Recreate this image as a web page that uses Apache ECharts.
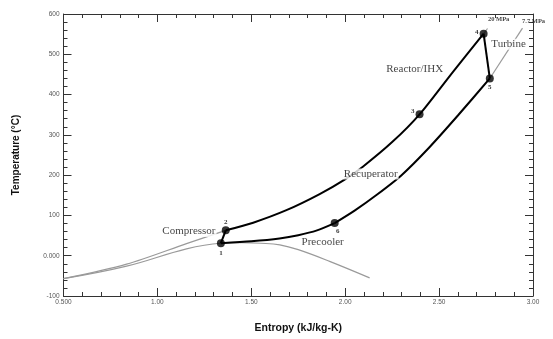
<!DOCTYPE html>
<html>
<head>
<meta charset="utf-8">
<script src="https://cdn.jsdelivr.net/npm/echarts@6/dist/echarts.min.js"></script>
<style>html,body{margin:0;padding:0;background:#fff}#c{width:553px;height:339px}</style>
</head>
<body>
<div id="c"></div>
<script>
// ---- data (entropy kJ/kg-K, temperature °C) ----
const xTickLabels = ['0.500', '1.00', '1.50', '2.00', '2.50', '3.00'];
const yTickLabels = ['-100', '0.000', '100', '200', '300', '400', '500', '600'];

const statePoints = [[1.338, 31], [1.364, 63], [2.396, 351], [2.737, 551], [2.770, 440], [1.944, 81]];
const stateNames = ['1', '2', '3', '4', '5', '6'];

const compressorLine = [[1.338, 31], [1.364, 63]];
const highPressureLine = [[1.364, 63], [1.51, 82], [1.687, 113], [1.864, 153], [1.997, 189], [2.094, 221], [2.25, 282], [2.396, 351], [2.573, 456], [2.737, 551]];
const turbineLine = [[2.737, 551], [2.770, 440]];
const lowPressureLine = [[1.944, 81], [2.05, 112], [2.17, 152], [2.30, 200], [2.45, 270], [2.60, 348], [2.770, 440]];
const precoolerLine = [[1.338, 31], [1.50, 36], [1.65, 43], [1.75, 51], [1.85, 63], [1.944, 81]];

const domeLine = [[0.5, -57], [0.836, -26], [1.155, 17], [1.338, 31], [1.45, 32.5], [1.55, 31], [1.652, 27], [1.75, 15], [1.917, -14], [2.13, -55]];
const isobar20Low = [[0.5, -57], [0.836, -21], [1.155, 30], [1.364, 63]];
const isobar20High = [[2.737, 551], [2.758, 564]];
const isobar77High = [[2.770, 440], [2.944, 565]];

const annotations = [
  {value: [1.168, 60], name: 'Compressor'},
  {value: [1.880, 33], name: 'Precooler'},
  {value: [2.136, 203], name: 'Recuperator'},
  {value: [2.370, 462], name: 'Reactor/IHX'},
  {value: [2.870, 525], name: 'Turbine'}
];
const pressureLabels = [
  {value: [2.817, 588], name: '20 MPa'},
  {value: [3.003, 581], name: '7.7 MPa'}
];

// ---- chart ----
const labelPos = {
  '1': {position: 'bottom', distance: 2},
  '2': {position: 'top', distance: 1},
  '3': {position: 'left', distance: 1, offset: [0, -3]},
  '4': {position: 'left', distance: 1, offset: [0, -2]},
  '5': {position: 'bottom', distance: 1},
  '6': {position: 'bottom', distance: 1, offset: [3, 0]}
};
const xLab = v => { const i = Math.round((v - 0.5) / 0.5); return xTickLabels[i] ?? ''; };
const yLab = v => { const i = Math.round((v + 100) / 100); return yTickLabels[i] ?? ''; };

const axisCommon = () => ({
  axisLine: {show: true, onZero: false, lineStyle: {color: '#333', width: 1}},
  axisTick: {show: true, inside: true, length: 8, lineStyle: {color: '#333'}},
  minorTick: {show: true, splitNumber: 5, length: 4, lineStyle: {color: '#333'}},
  splitLine: {show: false}
});
const black = (data) => ({type: 'line', data, showSymbol: false, symbol: 'none', smooth: 0.25,
  lineStyle: {color: '#000', width: 2}, z: 3, silent: true, animation: false});
const gray = (data, smooth) => ({type: 'line', data, showSymbol: false, symbol: 'none', smooth: smooth,
  lineStyle: {color: '#9a9a9a', width: 1.2}, z: 2, silent: true, animation: false});

const chart = echarts.init(document.getElementById('c'), null, {renderer: 'canvas'});
chart.setOption({
  animation: false,
  backgroundColor: '#fff',
  grid: {left: 63.5, right: 20, top: 14, bottom: 36},
  xAxis: [
    Object.assign({type: 'value', min: 0.5, max: 3.0, interval: 0.5, position: 'bottom',
      name: 'Entropy (kJ/kg-K)', nameLocation: 'middle', nameGap: 27,
      nameTextStyle: {fontFamily: 'Liberation Sans', fontWeight: 'bold', fontSize: 10.5, color: '#111'},
      axisLabel: {formatter: xLab, fontSize: 6.5, color: '#555', margin: 3, fontFamily: 'Liberation Sans'}}, axisCommon()),
    Object.assign({type: 'value', min: 0.5, max: 3.0, interval: 0.5, position: 'top',
      axisLabel: {show: false}}, axisCommon())
  ],
  yAxis: [
    Object.assign({type: 'value', min: -100, max: 600, interval: 100, position: 'left',
      name: 'Temperature (°C)', nameLocation: 'middle', nameGap: 42,
      nameTextStyle: {fontFamily: 'Liberation Sans', fontWeight: 'bold', fontSize: 10, color: '#111'},
      axisLabel: {formatter: yLab, fontSize: 6.5, color: '#555', margin: 4, fontFamily: 'Liberation Sans'}}, axisCommon()),
    Object.assign({type: 'value', min: -100, max: 600, interval: 100, position: 'right',
      axisLabel: {show: false}}, axisCommon())
  ],
  series: [
    gray(domeLine, 0.4),
    gray(isobar20Low, 0.3),
    gray(isobar20High, false),
    gray(isobar77High, false),
    black(compressorLine),
    black(highPressureLine),
    black(turbineLine),
    black(lowPressureLine),
    black(precoolerLine),
    {type: 'scatter', data: statePoints.map((p, i) => ({value: p, name: stateNames[i],
        label: Object.assign({show: true}, labelPos[stateNames[i]])})),
      symbol: 'circle', symbolSize: 8, itemStyle: {color: '#000'}, z: 5, silent: true,
      label: {formatter: '{b}', fontFamily: 'Liberation Serif', fontWeight: 'bold', fontSize: 7, color: '#000'}},
    {type: 'scatter', data: annotations, symbolSize: 0, z: 10, silent: true, clip: false,
      label: {show: true, position: 'inside', formatter: '{b}', fontFamily: 'Liberation Serif', fontSize: 11,
        color: '#111', backgroundColor: '#fff', padding: [0, 1]}},
    {type: 'scatter', data: pressureLabels, symbolSize: 0, z: 10, silent: true, clip: false,
      label: {show: true, position: 'inside', formatter: '{b}', fontFamily: 'Liberation Serif', fontWeight: 'bold',
        fontSize: 6.5, color: '#111'}}
  ]
});
</script>
</body>
</html>
